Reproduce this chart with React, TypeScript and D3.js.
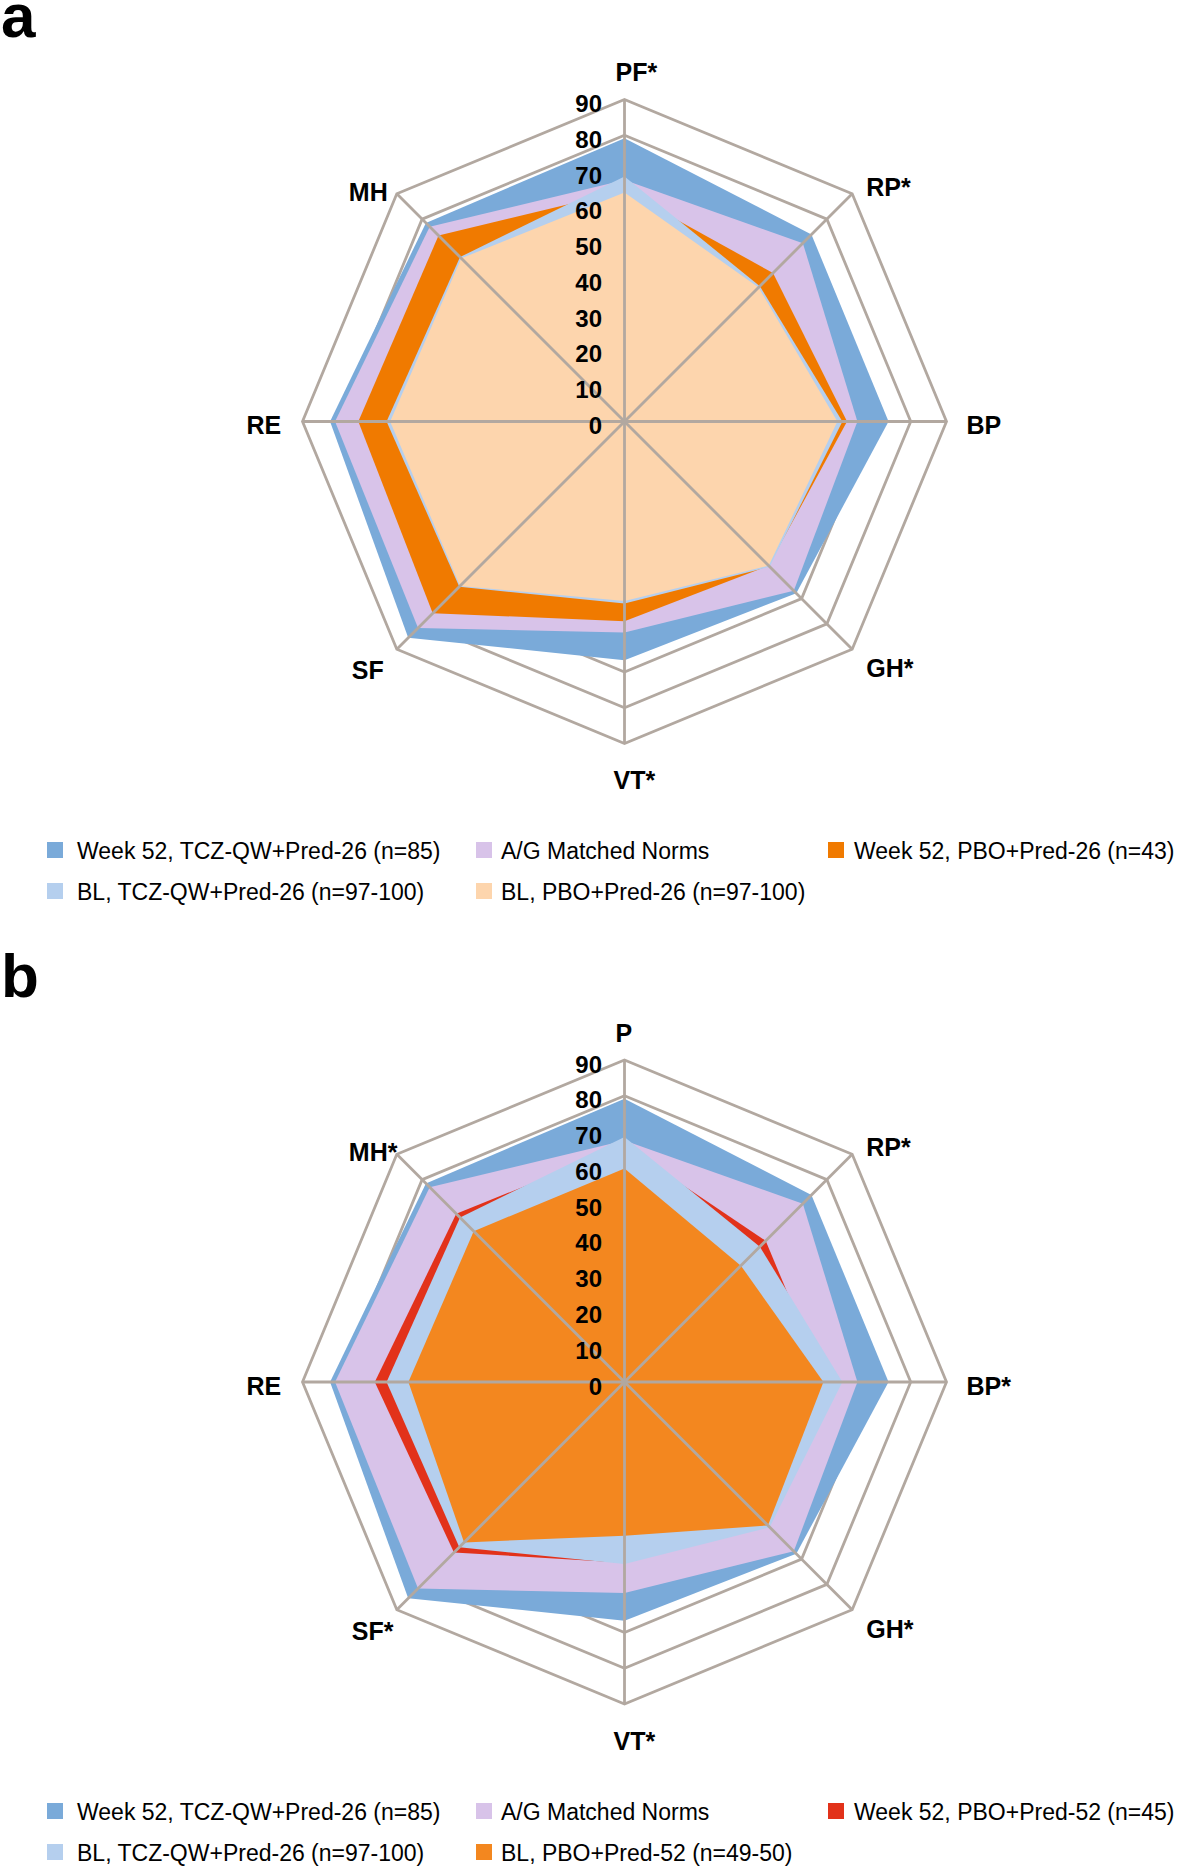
import * as d3 from 'd3'

// SF-36 domain labels, clockwise from the top
const AXES_A = ['PF*', 'RP*', 'BP', 'GH*', 'VT*', 'SF', 'RE', 'MH']
const AXES_B = ['P', 'RP*', 'BP*', 'GH*', 'VT*', 'SF*', 'RE', 'MH*']
const TICKS = [0, 10, 20, 30, 40, 50, 60, 70, 80, 90]

// values, same axis order as above
const W52_TCZ = [79.2, 73.9, 73.8, 67.9, 66.7, 85.5, 82.3, 78.5]
const NORMS = [67.5, 70.5, 65.1, 66.9, 59.0, 81.6, 80.9, 77.0]
const BL_TCZ = [68.5, 53.5, 60.9, 57.4, 50.9, 65.3, 66.5, 65.0]
const W52_PBO26 = [64.5, 58.7, 62.2, 57.0, 55.8, 75.8, 74.4, 73.5]
const BL_PBO26 = [64.0, 53.0, 59.5, 57.0, 50.2, 65.0, 65.5, 64.5]
const W52_PBO52 = [66.0, 55.8, 56.0, 55.0, 50.5, 67.4, 69.8, 66.5]
const BL_PBO52 = [59.7, 46.0, 55.6, 56.7, 43.0, 63.4, 60.4, 59.6]

const C = {
  blue: '#7AAAD9', lav: '#D8C3E9', orange: '#F07A00', lblue: '#B5CFEE',
  peach: '#FDD5AD', red: '#E2321A', orangeB: '#F3871F', grid: '#B2A8A0',
}

type Series = { name: string; values: number[]; color: string }

const SERIES_A: Series[] = [
  { name: 'Week 52, TCZ-QW+Pred-26 (n=85)', values: W52_TCZ, color: C.blue },
  { name: 'A/G Matched Norms', values: NORMS, color: C.lav },
  { name: 'Week 52, PBO+Pred-26 (n=43)', values: W52_PBO26, color: C.orange },
  { name: 'BL, TCZ-QW+Pred-26 (n=97-100)', values: BL_TCZ, color: C.lblue },
  { name: 'BL, PBO+Pred-26 (n=97-100)', values: BL_PBO26, color: C.peach },
]
const SERIES_B: Series[] = [
  { name: 'Week 52, TCZ-QW+Pred-26 (n=85)', values: W52_TCZ, color: C.blue },
  { name: 'A/G Matched Norms', values: NORMS, color: C.lav },
  { name: 'Week 52, PBO+Pred-52 (n=45)', values: W52_PBO52, color: C.red },
  { name: 'BL, TCZ-QW+Pred-26 (n=97-100)', values: BL_TCZ, color: C.lblue },
  { name: 'BL, PBO+Pred-52 (n=49-50)', values: BL_PBO52, color: C.orangeB },
]

const W = 1178
const H = 1867
const CX = 624.5
const R = 322
const FONT = '"Liberation Sans", Arial, Helvetica, sans-serif'

const r = d3.scaleLinear().domain([0, 90]).range([0, R])
const ang = (i: number) => (i * 2 * Math.PI) / 8
const pt = (i: number, v: number): [number, number] => [
  Math.sin(ang(i)) * r(v), -Math.cos(ang(i)) * r(v),
]

// label placement relative to the outer vertex (start-anchored)
const LABEL_OFF: [number, number][] = [
  [-9, -18.5], [14, 2], [20, 12.5], [14, 28], [-11, 45.5], [-45, 30], [-56, 12.5], [-48, 7],
]

const radial = d3.lineRadial<number>()
  .angle((_d, i) => ang(i))
  .radius((d) => r(d))
  .curve(d3.curveLinearClosed)

function Radar({ cy, axes, series }: { cy: number; axes: string[]; series: Series[] }) {
  const idx = d3.range(axes.length)
  const ring = (v: number) => idx.map(() => v)
  return (
    <g transform={`translate(${CX},${cy})`}>
      {TICKS.filter((t) => t > 0).map((t) => (
        <path key={t} d={radial(ring(t)) ?? ''} fill="none" stroke={C.grid} strokeWidth={2.8} />
      ))}
      {series.map((s) => (
        <path key={s.name} d={radial(s.values) ?? ''} fill={s.color} stroke="none" />
      ))}
      {idx.map((i) => {
        const [x, y] = pt(i, 90)
        return <line key={i} x1={0} y1={0} x2={x} y2={y} stroke={C.grid} strokeWidth={2.8} />
      })}
      {TICKS.map((t) => (
        <text key={t} x={-22.5} y={-r(t) + 12.5} textAnchor="end" fontSize={24} fontWeight="bold"
          fontFamily={FONT} fill="#000">{t}</text>
      ))}
      {axes.map((a, i) => {
        const [x, y] = pt(i, 90)
        return (
          <text key={a} x={x + LABEL_OFF[i][0]} y={y + LABEL_OFF[i][1]} fontSize={25}
            fontWeight="bold" fontFamily={FONT} fill="#000">{a}</text>
        )
      })}
    </g>
  )
}

const LEG_SQ_X = [47, 476, 828]
const LEG_TX_X = [77, 501, 854]

function Legend({ y, series }: { y: number; series: Series[] }) {
  return (
    <g>
      {series.map((s, i) => {
        const col = i % 3
        const row = Math.floor(i / 3)
        const by = y + row * 41
        return (
          <g key={s.name}>
            <rect x={LEG_SQ_X[col]} y={by - 17} width={16} height={16} fill={s.color} />
            <text x={LEG_TX_X[col]} y={by} fontSize={23} fontFamily={FONT} fill="#000">{s.name}</text>
          </g>
        )
      })}
    </g>
  )
}

export default function App() {
  return (
    <svg width={W} height={H} viewBox={`0 0 ${W} ${H}`}
      style={{ position: 'absolute', left: 0, top: 0, background: '#fff' }}>
      <rect width={W} height={H} fill="#fff" />
      <text x={1} y={37} fontSize={62} fontWeight="bold" fontFamily={FONT}>a</text>
      <Radar cy={421.5} axes={AXES_A} series={SERIES_A} />
      <Legend y={859} series={SERIES_A} />
      <text x={1} y={997} fontSize={62} fontWeight="bold" fontFamily={FONT}>b</text>
      <Radar cy={1382} axes={AXES_B} series={SERIES_B} />
      <Legend y={1820} series={SERIES_B} />
    </svg>
  )
}
